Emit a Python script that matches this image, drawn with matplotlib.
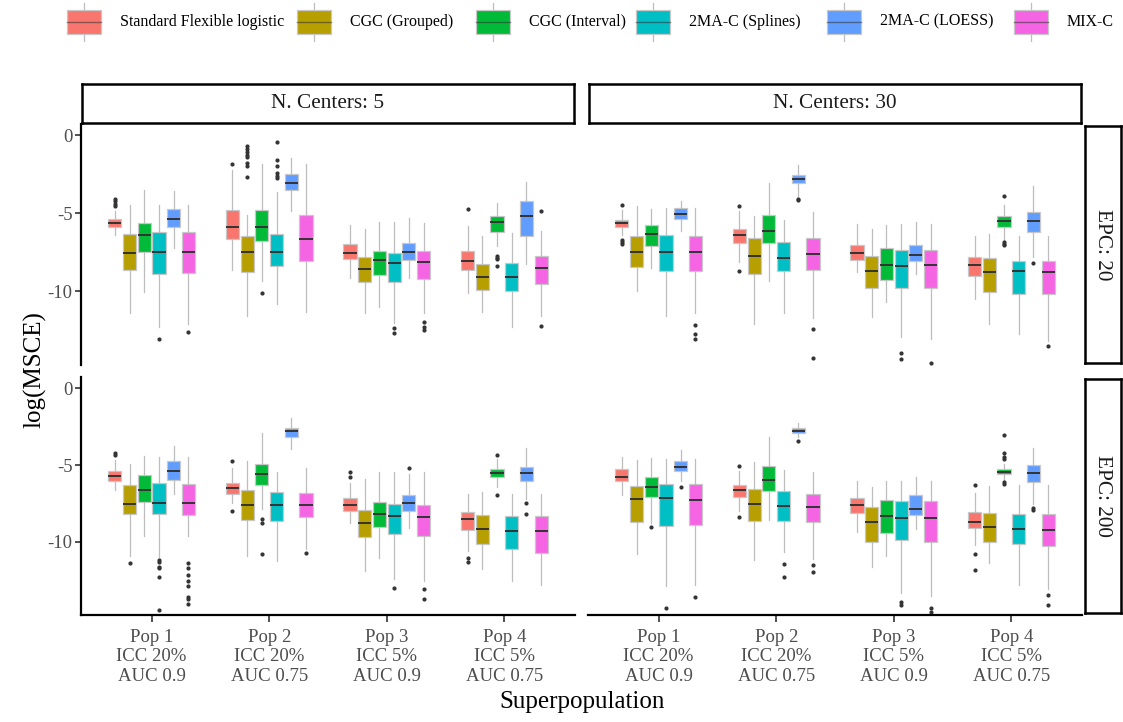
import matplotlib
matplotlib.use("Agg")
import matplotlib.pyplot as plt
from matplotlib.patches import Rectangle

# ---------------- data ----------------
methods = ["Standard Flexible logistic", "CGC (Grouped)", "CGC (Interval)",
           "2MA-C (Splines)", "2MA-C (LOESS)", "MIX-C"]
colors = ["#F8766D", "#B79F00", "#00BA38", "#00BFC4", "#619CFF", "#F564E3"]
pop_labels = ["Pop 1\nICC 20%\nAUC 0.9", "Pop 2\nICC 20%\nAUC 0.75",
              "Pop 3\nICC 5%\nAUC 0.9", "Pop 4\nICC 5%\nAUC 0.75"]
centers_labels = ["N. Centers: 5", "N. Centers: 30"]
epc_labels = ["EPC: 20", "EPC: 200"]
yticks = [0, -5, -10]

# Panel A: N. Centers 5, EPC 20  (rows = Pop 1..4, cols = methods)
med_a = [[-5.64, -7.53, -6.39, -7.51, -5.36, -7.47],
         [-5.92, -7.47, -5.90, -7.51, -3.09, -6.69],
         [-7.55, -8.60, -8.02, -8.22, -7.49, -8.13],
         [-8.07, -9.08, -5.58, -9.12, -5.21, -8.54]]
q1_a = [[-5.92, -8.62, -7.47, -8.93, -5.86, -8.82],
        [-6.65, -8.78, -6.78, -8.39, -3.50, -8.07],
        [-7.94, -9.42, -8.97, -9.44, -8.00, -9.20],
        [-8.65, -9.93, -6.22, -9.99, -6.46, -9.55]]
q3_a = [[-5.36, -6.31, -5.62, -6.24, -4.74, -6.24],
        [-4.83, -6.44, -4.81, -6.37, -2.47, -5.09],
        [-7.01, -7.81, -7.45, -7.53, -6.89, -7.45],
        [-7.42, -8.26, -5.21, -8.22, -4.20, -7.75]]
lo_a = [[-6.39, -11.39, -10.08, -12.34, -7.25, -12.12],
        [-8.65, -11.59, -9.35, -10.86, -4.85, -11.37],
        [-9.18, -11.39, -11.01, -12.08, -9.16, -11.44],
        [-10.15, -11.37, -7.10, -12.34, -8.28, -11.59]]
hi_a = [[-4.89, -4.46, -3.50, -4.51, -3.56, -4.51],
        [-2.21, -5.11, -1.84, -3.63, -1.46, -1.82],
        [-5.79, -6.01, -5.60, -5.60, -5.34, -5.64],
        [-5.81, -6.44, -4.33, -6.29, -3.00, -6.14]]
fl_a = [[[-4.08, -4.25, -4.40, -4.53], [], [], [-13.07], [], [-12.62]],
        [[-1.84], [-0.71, -0.88, -1.07, -1.24, -1.41, -1.78, -1.99, -2.68], [-10.15],
         [-0.43, -1.61, -1.95, -2.42, -2.59, -2.75], [], []],
        [[], [], [], [-12.36, -12.72], [], [-11.99, -12.29, -12.51]],
        [[-4.74], [], [-7.75, -7.85, -7.96, -8.39], [], [], [-4.89, -12.25]]]

# Panel B: N. Centers 30, EPC 20
med_b = [[-5.66, -7.51, -6.33, -7.47, -5.06, -7.51],
         [-6.41, -7.77, -6.12, -7.85, -2.81, -7.64],
         [-7.59, -8.71, -8.30, -8.37, -7.68, -8.35],
         [-8.32, -8.76, -5.51, -8.71, -5.51, -8.78]]
q1_b = [[-5.92, -8.43, -7.12, -8.69, -5.41, -8.69],
        [-6.95, -8.88, -6.93, -8.73, -3.07, -8.67],
        [-7.98, -9.80, -9.27, -9.80, -8.07, -9.80],
        [-9.05, -10.06, -5.88, -10.19, -6.24, -10.21]]
q3_b = [[-5.43, -6.50, -5.75, -6.39, -4.70, -6.44],
        [-6.01, -6.61, -5.11, -6.84, -2.53, -6.61],
        [-7.06, -7.74, -7.25, -7.36, -7.06, -7.38],
        [-7.83, -7.88, -5.21, -8.05, -4.93, -8.05]]
lo_b = [[-6.39, -10.02, -8.50, -11.61, -6.14, -11.39],
        [-8.17, -12.10, -9.33, -11.39, -3.93, -11.71],
        [-8.75, -11.65, -10.73, -12.94, -8.88, -13.11],
        [-10.51, -12.14, -6.76, -12.75, -7.79, -13.22]]
hi_b = [[-4.78, -4.53, -4.72, -4.66, -4.20, -4.66],
        [-4.85, -5.21, -3.07, -5.43, -1.89, -4.93],
        [-5.69, -6.03, -5.75, -5.69, -5.60, -5.69],
        [-6.46, -6.35, -4.46, -6.46, -3.28, -6.44]]
fl_b = [[[-4.48, -6.72, -6.84, -6.97], [], [], [], [], [-12.19, -12.77, -13.07]],
        [[-4.55, -8.69], [], [], [], [-4.08, -4.16], [-12.47, -14.27]],
        [[], [], [], [-13.97, -14.38], [], [-14.65]],
        [[], [], [-3.88, -6.87, -6.97, -7.06], [], [-8.22], [-13.52]]]

# Panel C: N. Centers 5, EPC 200
med_c = [[-5.71, -7.52, -6.65, -7.44, -5.37, -7.48],
         [-6.52, -7.59, -5.58, -7.61, -2.78, -7.59],
         [-7.59, -8.74, -8.19, -8.34, -7.50, -8.40],
         [-8.53, -9.17, -5.51, -9.28, -5.49, -9.32]]
q1_c = [[-6.07, -8.21, -7.39, -8.19, -5.96, -8.25],
        [-6.86, -8.55, -6.33, -8.61, -3.16, -8.36],
        [-8.01, -9.68, -9.06, -9.49, -8.01, -9.60],
        [-9.25, -10.13, -5.77, -10.45, -6.05, -10.69]]
q3_c = [[-5.39, -6.33, -5.64, -6.18, -4.72, -6.24],
        [-6.18, -6.60, -4.92, -6.76, -2.57, -6.84],
        [-7.16, -7.91, -7.39, -7.52, -6.95, -7.57],
        [-8.08, -8.23, -5.24, -8.31, -5.11, -8.34]]
lo_c = [[-6.63, -10.90, -9.62, -10.96, -6.90, -9.62],
        [-7.44, -10.90, -7.87, -11.24, -3.93, -10.45],
        [-8.78, -11.88, -11.07, -12.39, -9.10, -12.56],
        [-10.60, -11.75, -6.41, -12.56, -7.22, -12.78]]
hi_c = [[-4.66, -4.92, -4.40, -4.49, -3.76, -4.49],
        [-5.19, -4.77, -2.89, -5.43, -1.95, -5.19],
        [-6.16, -5.94, -5.45, -5.45, -5.56, -5.45],
        [-6.90, -6.75, -4.62, -6.90, -3.89, -6.90]]
fl_c = [[[-4.23, -4.34], [-11.35], [], [-11.18, -11.28, -11.60, -11.71, -12.31, -14.45], [],
         [-11.35, -11.71, -12.18, -12.57, -12.89, -13.59, -13.74, -14.06]],
        [[-4.77, -7.97], [], [-8.51, -8.78, -10.77], [], [], [-10.71]],
        [[-5.47, -5.79], [], [], [-12.99], [-5.19], [-13.06, -13.68]],
        [[-11.07, -11.28], [], [-4.38, -6.93], [], [-7.46, -8.21], []]]

# Panel D: N. Centers 30, EPC 200
med_d = [[-5.79, -7.22, -6.43, -7.16, -5.11, -7.25],
         [-6.63, -7.54, -5.96, -7.67, -2.76, -7.74],
         [-7.63, -8.68, -8.29, -8.42, -7.89, -8.44],
         [-8.68, -9.00, -5.43, -9.13, -5.51, -9.25]]
q1_d = [[-6.05, -8.72, -7.05, -8.95, -5.41, -8.87],
        [-7.07, -8.61, -6.71, -8.61, -2.91, -8.72],
        [-8.12, -10.00, -9.42, -9.85, -8.23, -10.00],
        [-9.10, -10.02, -5.58, -10.11, -6.13, -10.26]]
q3_d = [[-5.28, -6.37, -5.77, -6.24, -4.77, -6.26],
        [-6.28, -6.58, -5.07, -6.71, -2.59, -6.88],
        [-7.12, -7.72, -7.29, -7.31, -6.93, -7.35],
        [-8.06, -8.14, -5.26, -8.19, -5.02, -8.21]]
lo_d = [[-6.97, -10.77, -8.76, -12.87, -6.05, -12.78],
        [-7.97, -11.18, -8.55, -10.64, -3.16, -11.13],
        [-9.38, -11.63, -10.92, -13.33, -9.19, -13.53],
        [-10.21, -11.35, -6.05, -12.82, -7.54, -13.04]]
hi_d = [[-4.51, -4.66, -4.57, -4.59, -4.04, -4.59],
        [-5.41, -4.83, -3.16, -5.30, -2.27, -5.45],
        [-6.07, -6.41, -6.07, -6.01, -5.79, -6.01],
        [-6.80, -6.37, -4.92, -6.33, -3.87, -6.33]]
fl_d = [[[], [], [-9.00], [-14.32], [-6.41], [-13.57]],
        [[-5.09, -8.38], [], [], [-11.45, -12.27], [-3.46], [-11.48, -11.97]],
        [[], [], [], [-13.91, -14.13], [], [-14.28, -14.55]],
        [[-6.28, -10.77, -11.84], [], [-3.06, -4.25, -4.51, -4.62, -6.11, -6.24], [],
         [-7.82, -7.95], [-13.42, -14.10]]]

# ---------------- layout ----------------
plt.rcParams['font.family'] = ['Liberation Serif', 'DejaVu Serif']
W, H = 1123, 722
fig = plt.figure(figsize=(W / 100, H / 100), dpi=100)


def ax_px(x0, y0, x1, y1, **kw):
    return fig.add_axes([x0 / W, 1 - y1 / H, (x1 - x0) / W, (y1 - y0) / H], **kw)


col_x = [(81, 575), (588, 1082)]
row_y = [(124, 365), (377, 615)]
panels = [[(med_a, q1_a, q3_a, lo_a, hi_a, fl_a), (med_b, q1_b, q3_b, lo_b, hi_b, fl_b)],
          [(med_c, q1_c, q3_c, lo_c, hi_c, fl_c), (med_d, q1_d, q3_d, lo_d, hi_d, fl_d)]]

TICK_COLOR = "#4D4D4D"
n_m = len(methods)
step = 0.125
bw = 0.112

for r in range(2):
    for c in range(2):
        med, q1, q3, lo, hi, fl = panels[r][c]
        x0, x1 = col_x[c]
        y0, y1 = row_y[r]
        ax = ax_px(x0, y0, x1, y1)
        stats, pos, cols = [], [], []
        for p in range(len(pop_labels)):
            for m in range(n_m):
                stats.append(dict(med=med[p][m], q1=q1[p][m], q3=q3[p][m],
                                  whislo=lo[p][m], whishi=hi[p][m], fliers=fl[p][m]))
                pos.append(p + 1 + (m - (n_m - 1) / 2) * step)
                cols.append(colors[m])
        bp = ax.bxp(stats, positions=pos, widths=bw, patch_artist=True, showcaps=False,
                    boxprops=dict(edgecolor="#C8C8C8", linewidth=0.9),
                    whiskerprops=dict(color="#BDBDBD", linewidth=0.9),
                    medianprops=dict(color="#333333", linewidth=1.4),
                    flierprops=dict(marker="o", markersize=2.0, markerfacecolor="#333333",
                                    markeredgecolor="#333333", linestyle="none"))
        for patch, col in zip(bp["boxes"], cols):
            patch.set_facecolor(col)
            patch.set_zorder(2)
        for med_line in bp["medians"]:
            med_line.set_zorder(3)
        ax.set_xlim(0.4, len(pop_labels) + 0.6)
        ax.set_ylim(-14.75, 0.72)
        for s in ["top", "right"]:
            ax.spines[s].set_visible(False)
        ax.spines["left"].set_visible(c == 0)
        ax.spines["bottom"].set_visible(r == 1)
        ax.spines["left"].set_linewidth(1.6)
        ax.spines["bottom"].set_linewidth(1.6)
        ax.set_yticks(yticks)
        ax.set_xticks(range(1, len(pop_labels) + 1))
        if c == 0:
            ax.set_yticklabels([str(v) for v in yticks], fontsize=13.5, color=TICK_COLOR)
            ax.tick_params(axis="y", length=4, width=1.2, color="#333333", pad=2)
        else:
            ax.tick_params(axis="y", left=False, labelleft=False)
        if r == 1:
            ax.set_xticklabels(pop_labels, fontsize=13.5, color=TICK_COLOR, linespacing=1.2)
            ax.tick_params(axis="x", length=5, width=1.2, color="#333333", pad=5)
        else:
            ax.tick_params(axis="x", bottom=False, labelbottom=False)
        ax.set_facecolor("none")

# strips
for c in range(2):
    x0, x1 = col_x[c]
    sa = ax_px(x0 + 1, 84, x1 - 1, 123)
    sa.set_xticks([]); sa.set_yticks([])
    for s in sa.spines.values():
        s.set_linewidth(1.8); s.set_color("black")
    sa.text(0.5, 0.5, centers_labels[c], ha="center", va="center", fontsize=15.3,
            color="#1A1A1A", transform=sa.transAxes)
for r in range(2):
    y0, y1 = row_y[r]
    sa = ax_px(1085, y0 + 2, 1121, y1 - 2)
    sa.set_xticks([]); sa.set_yticks([])
    for s in sa.spines.values():
        s.set_linewidth(1.8); s.set_color("black")
    sa.text(0.5, 0.5, epc_labels[r], ha="center", va="center", fontsize=15.3,
            rotation=-90, color="#1A1A1A", transform=sa.transAxes)

# axis titles
fig.text(35 / W, 1 - 370 / H, "log(MSCE)", rotation=90, ha="center", va="center", fontsize=18)
fig.text(582 / W, 1 - 702 / H, "Superpopulation", ha="center", va="center", fontsize=18)

# legend
lg = ax_px(0, 0, W, 48)
lg.set_xlim(0, W); lg.set_ylim(48, 0); lg.axis("off")
key_x = [67, 297, 476, 636, 827, 1014]
for kx, name, col in zip(key_x, methods, colors):
    lg.plot([kx + 17, kx + 17], [3, 41], color="#BDBDBD", lw=0.9, zorder=1)
    lg.add_patch(Rectangle((kx, 10), 34, 23.5, facecolor=col, edgecolor="#C8C8C8", lw=0.9, zorder=2))
    lg.plot([kx, kx + 34], [21.5, 21.5], color="#333333", lw=1.0, alpha=0.55, zorder=3)
    lg.text(kx + 53, 21.5, name, ha="left", va="center", fontsize=11.5, color="black")

fig.savefig("out.png", dpi=100)
